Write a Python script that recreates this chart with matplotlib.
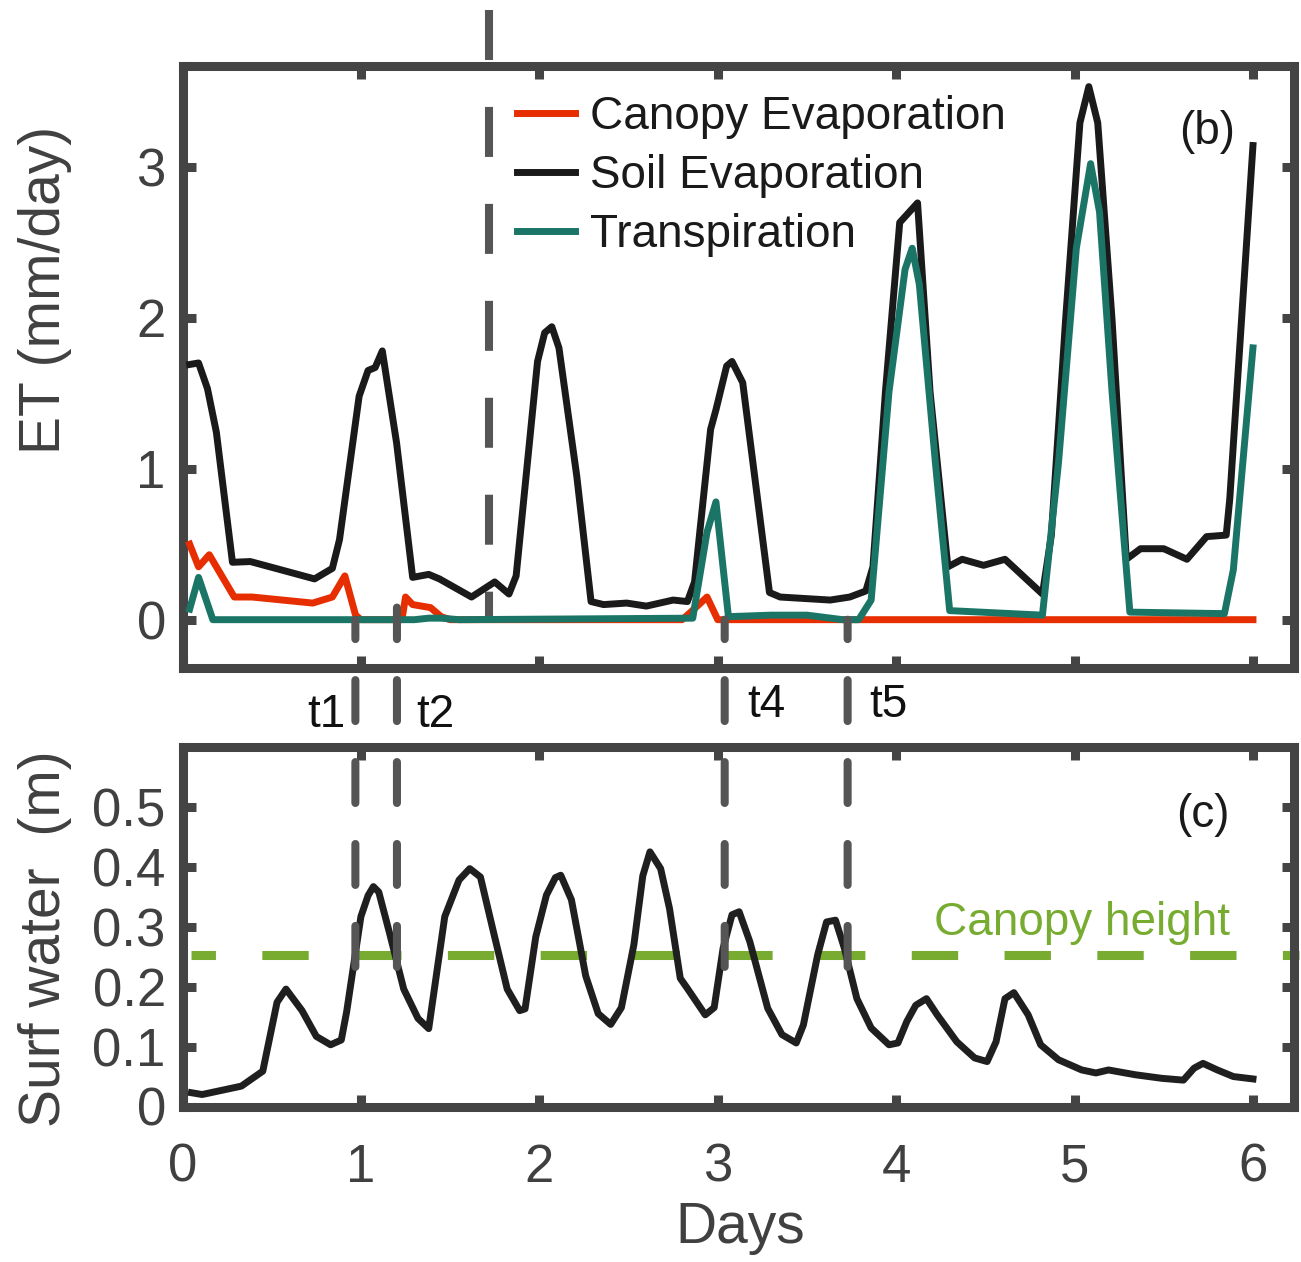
import numpy as np
import matplotlib
matplotlib.use("Agg")
import matplotlib.pyplot as plt
from matplotlib.patches import ConnectionPatch

plt.rcParams['font.family'] = ['Liberation Sans', 'DejaVu Sans']
plt.rcParams['lines.scale_dashes'] = False

# ET components (mm/day) against time (days)
canopy_days = [0.04, 0.09, 0.15, 0.29, 0.39, 0.73, 0.84, 0.91, 0.97, 1.00, 1.23, 1.25,
               1.29, 1.39, 1.45, 1.50, 2.80, 2.83, 2.94, 3.00, 6.00]
canopy_evap = [0.50, 0.35, 0.43, 0.15, 0.15, 0.11, 0.15, 0.29, 0.03, 0.0, 0.0, 0.15,
               0.10, 0.08, 0.02, 0.0, 0.0, 0.03, 0.15, 0.0, 0.0]

soil_days = [0.04, 0.09, 0.14, 0.19, 0.28, 0.38, 0.49, 0.74, 0.84, 0.88, 0.99, 1.04,
             1.08, 1.12, 1.20, 1.29, 1.38, 1.44, 1.62, 1.75, 1.83, 1.87, 1.99, 2.03,
             2.07, 2.11, 2.21, 2.29, 2.36, 2.49, 2.60, 2.75, 2.83, 2.87, 2.96, 2.99,
             3.05, 3.08, 3.14, 3.29, 3.35, 3.63, 3.74, 3.83, 3.87, 3.94, 4.02, 4.12,
             4.19, 4.29, 4.37, 4.49, 4.61, 4.82, 4.87, 4.95, 5.03, 5.08, 5.13, 5.21,
             5.29, 5.37, 5.50, 5.63, 5.74, 5.85, 5.87, 6.00]
soil_evap = [1.69, 1.70, 1.53, 1.24, 0.38, 0.385, 0.35, 0.27, 0.34, 0.53, 1.48, 1.65,
             1.67, 1.78, 1.17, 0.28, 0.30, 0.27, 0.15, 0.25, 0.17, 0.29, 1.71, 1.90,
             1.94, 1.80, 0.95, 0.12, 0.10, 0.11, 0.09, 0.13, 0.12, 0.25, 1.26, 1.39,
             1.68, 1.71, 1.57, 0.18, 0.15, 0.13, 0.15, 0.19, 0.35, 1.51, 2.63, 2.76,
             1.51, 0.35, 0.40, 0.36, 0.40, 0.17, 0.56, 1.99, 3.29, 3.53, 3.29, 1.99,
             0.40, 0.47, 0.47, 0.40, 0.55, 0.56, 0.80, 3.14]

transp_days = [0.04, 0.09, 0.17, 1.30, 1.38, 1.45, 1.55, 2.86, 2.94, 2.99, 3.06, 3.30,
               3.50, 3.70, 3.79, 3.86, 3.96, 4.05, 4.09, 4.13, 4.22, 4.30, 4.82, 4.91,
               5.01, 5.09, 5.14, 5.21, 5.31, 5.84, 5.89, 6.00]
transp = [0.07, 0.28, 0.0, 0.0, 0.01, 0.01, 0.0, 0.01, 0.58, 0.78, 0.02, 0.03,
          0.03, 0.0, 0.0, 0.13, 1.51, 2.32, 2.46, 2.22, 1.04, 0.06, 0.03, 1.04,
          2.46, 3.02, 2.70, 1.51, 0.05, 0.04, 0.33, 1.80]

# surface water depth (m)
surf_days = [0.05, 0.11, 0.33, 0.45, 0.53, 0.58, 0.67, 0.75, 0.83, 0.89, 0.92, 1.00,
             1.04, 1.07, 1.10, 1.16, 1.24, 1.32, 1.38, 1.47, 1.55, 1.61, 1.67, 1.74,
             1.82, 1.89, 1.92, 1.98, 2.04, 2.09, 2.12, 2.18, 2.26, 2.33, 2.40, 2.46,
             2.53, 2.58, 2.62, 2.68, 2.73, 2.79, 2.83, 2.93, 2.98, 3.03, 3.08, 3.12,
             3.18, 3.28, 3.36, 3.44, 3.48, 3.56, 3.61, 3.66, 3.71, 3.78, 3.86, 3.96,
             4.01, 4.06, 4.11, 4.17, 4.23, 4.34, 4.44, 4.51, 4.56, 4.61, 4.66, 4.74,
             4.81, 4.91, 5.04, 5.12, 5.19, 5.34, 5.49, 5.61, 5.67, 5.72, 5.80, 5.89,
             6.00]
surf_water = [0.023, 0.020, 0.034, 0.059, 0.174, 0.196, 0.16, 0.117, 0.103, 0.111, 0.158, 0.317,
              0.352, 0.367, 0.358, 0.29, 0.196, 0.147, 0.130, 0.317, 0.378, 0.397, 0.383, 0.295,
              0.196, 0.16, 0.163, 0.283, 0.353, 0.382, 0.386, 0.345, 0.218, 0.155, 0.137, 0.165,
              0.27, 0.385, 0.425, 0.397, 0.33, 0.214, 0.197, 0.153, 0.165, 0.264, 0.32, 0.325,
              0.275, 0.164, 0.12, 0.106, 0.136, 0.253, 0.308, 0.311, 0.264, 0.18, 0.131, 0.103,
              0.106, 0.142, 0.169, 0.18, 0.153, 0.108, 0.081, 0.075, 0.108, 0.18, 0.19, 0.153,
              0.103, 0.078, 0.061, 0.056, 0.061, 0.053, 0.047, 0.044, 0.064, 0.072, 0.061, 0.05,
              0.046]

canopy_height = 0.253
marker_days = [0.969, 1.202, 3.039, 3.728]
marker_labels = ['t1', 't2', 't4', 't5']
split_day = 1.717

W, H = 1301, 1262
fig = plt.figure(figsize=(W / 100, H / 100), dpi=100)

def px_axes(left, top, right, bottom):
    return fig.add_axes([left / W, 1 - bottom / H, (right - left) / W, (bottom - top) / H])

ax1 = px_axes(182.5, 65.5, 1294, 668)
ax2 = px_axes(182.5, 747, 1294, 1106.5)

spine_col = '#444444'
text_col = '#404040'
for ax in (ax1, ax2):
    for s in ax.spines.values():
        s.set_linewidth(6.5)
        s.set_color(spine_col)
    ax.tick_params(direction='in', length=9, width=6.5, color=spine_col,
                   top=True, right=True, labelsize=38, labelcolor=text_col)
    ax.set_xlim(0, 6.23)
    ax.set_xticks(range(7))

ax1.set_ylim(-0.32, 3.67)
ax1.set_yticks([0, 1, 2, 3])
ax1.tick_params(labelbottom=False, pad=12)
ax2.set_ylim(0, 0.6)
ax2.set_yticks([0, 0.1, 0.2, 0.3, 0.4, 0.5])
ax2.set_yticklabels(['0', '0.1', '0.2', '0.3', '0.4', '0.5'])
ax2.tick_params(axis='y', pad=12)
ax2.tick_params(axis='x', pad=26)

lw = 5
ax1.plot(canopy_days, canopy_evap, color='#e62e00', lw=lw, label='Canopy Evaporation', zorder=3)
ax1.plot(soil_days, soil_evap, color='#1a1a1a', lw=lw, label='Soil Evaporation', zorder=4)
ax1.plot(transp_days, transp, color='#1a7566', lw=lw, label='Transpiration', zorder=5)

# dashed divider running up through the top of the ET panel
ax1.plot([split_day, split_day], [4.04, 0.0], color='#555555', lw=5.8,
         ls=(0, (36, 33.8)), clip_on=False, zorder=2)

leg = ax1.legend(loc='upper left', bbox_to_anchor=(517 / W, 1 - 95 / H),
                 bbox_transform=fig.transFigure, frameon=False, fontsize=33,
                 borderpad=0, borderaxespad=0, handlelength=1.27, handletextpad=0.33,
                 labelspacing=0.33)
for t in leg.get_texts():
    t.set_color('#1a1a1a')

ax1.text(1207 / W, 1 - 132 / H, '(b)', transform=fig.transFigure, fontsize=33,
         ha='center', va='center', color='#1a1a1a')

ax2.plot([0.047, 6.26], [canopy_height, canopy_height], color='#77ac30', lw=6.5,
         ls=(15.8, (33.4, 33.4)), clip_on=False, zorder=2)
ax2.plot(surf_days, surf_water, color='#1f1f1f', lw=lw, solid_joinstyle='round', zorder=4)
ax2.text(1230 / W, 1 - 923 / H, 'Canopy height', transform=fig.transFigure, fontsize=33,
         ha='right', va='center', color='#77ac30')
ax2.text(1203 / W, 1 - 815 / H, '(c)', transform=fig.transFigure, fontsize=33,
         ha='center', va='center', color='#1a1a1a')

# event markers linking the two panels
for d, top_y in zip(marker_days, [0.0, 0.08, 0.0, 0.0]):
    con = ConnectionPatch(xyA=(d, canopy_height - 0.02), coordsA=ax2.transData,
                          xyB=(d, top_y), coordsB=ax1.transData,
                          color='#555555', lw=5.8, ls=(0, (29.5, 29.5)),
                          shrinkA=0, shrinkB=0, zorder=3)
    fig.add_artist(con)

label_pos = [(326, 715), (435, 715), (766, 705), (888, 705)]
for lab, (x, y) in zip(marker_labels, label_pos):
    fig.text(x / W, 1 - y / H, lab, fontsize=33, ha='center', va='center', color='#111111')

fig.text(45 / W, 1 - 290 / H, 'ET (mm/day)', rotation=90, fontsize=41,
         ha='center', va='center', color=text_col)
fig.text(45 / W, 1 - 939 / H, 'Surf water  (m)', rotation=90, fontsize=41,
         ha='center', va='center', color=text_col)
fig.text(740 / W, 1 - 1228 / H, 'Days', fontsize=41, ha='center', va='center', color=text_col)

fig.savefig('out.png', dpi=100)
